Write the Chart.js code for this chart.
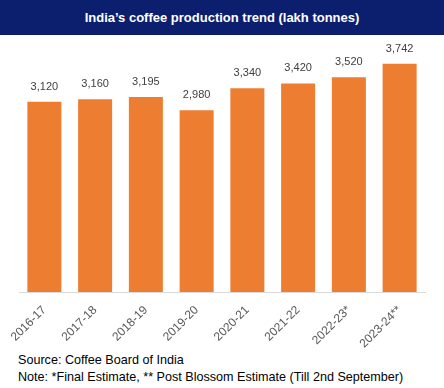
<!DOCTYPE html>
<html>
<head>
<meta charset="utf-8">
<script src="https://cdn.jsdelivr.net/npm/chart.js@4"></script>
<style>
  body { margin: 0; width: 444px; height: 388px; background: #fff; position: relative; overflow: hidden; font-family: "Liberation Sans", Arial, sans-serif; }
  #title { position: absolute; left: 0; top: 0; width: 444px; height: 35px; background: #0c1f6e; color: #fff;
           font-weight: bold; font-size: 13px; line-height: 35px; text-align: center; }
  #wrap { position: absolute; left: 0; top: 35px; width: 444px; height: 315px; }
  .note { position: absolute; left: 18px; font-size: 12.6px; line-height: 16px; color: #000; white-space: nowrap; }
</style>
</head>
<body>
<div id="title">India’s coffee production trend (lakh tonnes)</div>
<div id="wrap"><canvas id="coffeeChart" width="444" height="315"></canvas></div>
<div class="note" style="top:352px">Source: Coffee Board of India</div>
<div class="note" style="top:369px">Note: *Final Estimate, ** Post Blossom Estimate (Till 2nd September)</div>
<script>
const years = ['2016-17', '2017-18', '2018-19', '2019-20', '2020-21', '2021-22', '2022-23*', '2023-24**'];
const production = [3120, 3160, 3195, 2980, 3340, 3420, 3520, 3742];

// value labels above each bar
const barLabels = {
  id: 'barLabels',
  afterDatasetsDraw(chart) {
    const ctx = chart.ctx;
    const formatter = new Intl.NumberFormat('en-US');
    ctx.save();
    ctx.font = '11px "Liberation Sans", Arial, sans-serif';
    ctx.fillStyle = '#404040';
    ctx.textAlign = 'center';
    ctx.textBaseline = 'middle';
    chart.getDatasetMeta(0).data.forEach((bar, i) => {
      ctx.fillText(formatter.format(production[i]), bar.x, bar.y - 15);
    });
    ctx.restore();
  }
};

new Chart(document.getElementById('coffeeChart').getContext('2d'), {
  type: 'bar',
  data: {
    labels: years,
    datasets: [{
      data: production,
      backgroundColor: '#ED7D31',
      categoryPercentage: 1,
      barPercentage: 0.67
    }]
  },
  options: {
    responsive: false,
    animation: false,
    layout: { padding: { left: 19, right: 19, top: 13, bottom: 0 } },
    plugins: { legend: { display: false }, tooltip: { enabled: false } },
    scales: {
      x: {
        grid: { display: false },
        border: { color: '#d9d9d9' },
        afterFit(scale) { scale.height = 58; },
        ticks: {
          color: '#595959',
          font: { family: '"Liberation Sans", Arial, sans-serif', size: 12 },
          minRotation: 45,
          maxRotation: 45,
          padding: 3
        }
      },
      y: {
        display: false,
        min: 0,
        max: 4000
      }
    }
  },
  plugins: [barLabels]
});
</script>
</body>
</html>
